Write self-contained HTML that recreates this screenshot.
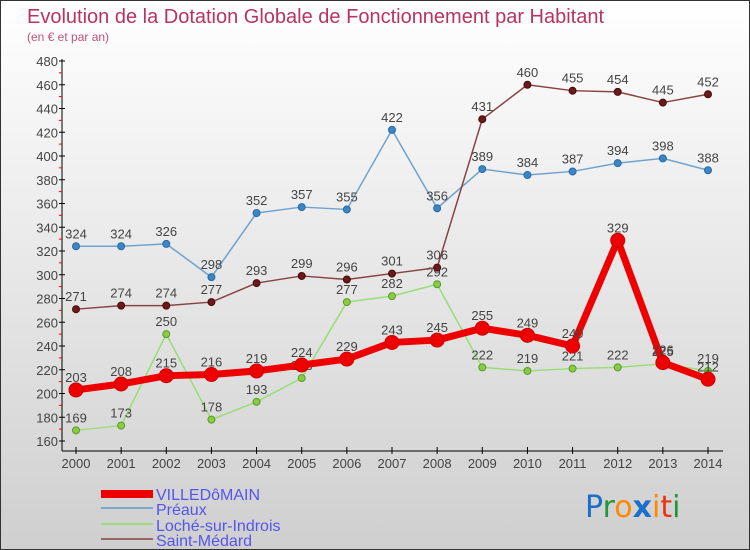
<!DOCTYPE html>
<html><head><meta charset="utf-8"><style>
body{margin:0}
#wrap{width:750px;height:550px;position:relative;box-sizing:border-box;border:1px solid #333;background:linear-gradient(#ffffff,#cfcfcf);font-family:"Liberation Sans",sans-serif;overflow:hidden}
</style></head><body>
<div id="wrap">
<svg id="chart" width="750" height="550" style="position:absolute;left:0;top:0">
<text x="26" y="22" font-size="20" fill="#b8345e">Evolution de la Dotation Globale de Fonctionnement par Habitant</text>
<text x="26" y="40" font-size="12" fill="#c0507a">(en € et par an)</text>
<g id="axes"></g><g id="series"></g>
<g>
<rect x="100" y="489" width="52" height="8" fill="#e00"/>
<text x="155" y="499" font-size="16" fill="#5555ee">VILLEDôMAIN</text>
<rect x="100" y="506" width="52" height="2" fill="#7aa8cc"/>
<text x="155" y="514" font-size="16" fill="#5555ee">Préaux</text>
<rect x="100" y="522" width="52" height="2" fill="#99dd77"/>
<text x="155" y="530" font-size="16" fill="#5555ee">Loché-sur-Indrois</text>
<rect x="100" y="537" width="52" height="2" fill="#996666"/>
<text x="155" y="545" font-size="16" fill="#5555ee">Saint-Médard</text>
</g>
<g font-size="30" font-family="'DejaVu Sans',sans-serif">
<text x="584" y="516"><tspan fill="#1a6fcc">P</tspan><tspan fill="#22963a">r</tspan><tspan fill="#ff8800">o</tspan><tspan fill="#1a6fcc" font-weight="bold">x</tspan><tspan fill="#ff8800">i</tspan><tspan fill="#ee3311">t</tspan><tspan fill="#22963a">i</tspan></text>
</g>
</svg>
</div>
<script>
const years=["2000","2001","2002","2003","2004","2005","2006","2007","2008","2009","2010","2011","2012","2013","2014"];
const yTicks=[160,180,200,220,240,260,280,300,320,340,360,380,400,420,440,460,480];
const villedomain=[203,208,215,216,219,224,229,243,245,255,249,240,329,226,212];
const preaux=[324,324,326,298,352,357,355,422,356,389,384,387,394,398,388];
const loche=[169,173,250,178,193,213,277,282,292,222,219,221,222,225,219];
const saintMedard=[271,274,274,277,293,299,296,301,306,431,460,455,454,445,452];
const NS="http://www.w3.org/2000/svg";
function xPos(i){return 75+i*(632/14);}
function yPos(v){return 440-(v-160)*(380/320);}
function mk(tag,attrs,parent){const e=document.createElementNS(NS,tag);for(const k in attrs)e.setAttribute(k,attrs[k]);parent.appendChild(e);return e;}
const ax=document.getElementById('axes');
let l=mk('line',{x1:61,y1:58,x2:61,y2:450,stroke:'#000','stroke-width':1},ax);


l=mk('line',{x1:61,y1:450,x2:722,y2:450,stroke:'#000','stroke-width':1},ax);


yTicks.forEach((v,i)=>{
 const y=yPos(v);
 mk('line',{x1:58,y1:y,x2:64,y2:y,stroke:'#000'},ax);
 if(i<yTicks.length-1)mk('line',{x1:58,y1:y-11.9,x2:61,y2:y-11.9,stroke:'#f00'},ax);
 const t=mk('text',{x:57,y:y+5,'text-anchor':'end','font-size':13,fill:'#444'},ax);t.textContent=v;
 
 
});
years.forEach((yr,i)=>{
 const x=xPos(i);
 mk('line',{x1:x,y1:446,x2:x,y2:453,stroke:'#000'},ax);
 const t=mk('text',{x:x,y:467,'text-anchor':'middle','font-size':13,fill:'#444'},ax);t.textContent=yr;
 
 
});
const sg=document.getElementById('series');
function drawSeries(vals,name,color,width,r,dot,dotStroke){
 const g=mk('g',{},sg);
 
 
 const pts=vals.map((v,i)=>xPos(i)+','+yPos(v)).join(' ');
 const pl=mk('polyline',{points:pts,fill:'none',stroke:color,'stroke-width':width,'stroke-linejoin':'round'},g);
 
 
 vals.forEach((v,i)=>{
  const c=mk('circle',{cx:xPos(i),cy:yPos(v),r:r,fill:dot,stroke:dotStroke,'stroke-width':1},g);
  
  
  const t=mk('text',{x:xPos(i),y:yPos(v)-8,'text-anchor':'middle','font-size':13,fill:'#444'},g);
  t.textContent=v;
  
  
 });
}
drawSeries(preaux,'preaux','#6fa3cf',1.5,3.5,'#3a86c8','#2a6aa0');
drawSeries(loche,'loche','#99dd77',1.5,3.5,'#88cc44','#5a9a2a');
drawSeries(saintMedard,'saint-medard','#884444',1.5,3.5,'#6a1a1a','#4a0a0a');
drawSeries(villedomain,'villedomain','#ee0000',7,7,'#ee0000','#cc0000');
</script>
</body></html>
